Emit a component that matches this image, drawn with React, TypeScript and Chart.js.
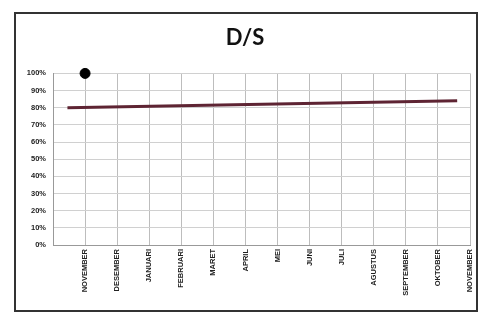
import React, { useEffect, useRef } from "react";
import { Chart, registerables } from "chart.js";

Chart.register(...registerables);

const monthLabels = ["", "NOVEMBER", "DESEMBER", "JANUARI", "FEBRUARI", "MARET", "APRIL", "MEI", "JUNI", "JULI", "AGUSTUS", "SEPTEMBER", "OKTOBER", "NOVEMBER"];
const actualValues: (number | null)[] = [null, 100, null, null, null, null, null, null, null, null, null, null, null, null];
const targetX = [0.45, 12.6];
const targetY = [80, 84];
const yTicks = [0, 10, 20, 30, 40, 50, 60, 70, 80, 90, 100];

export default function App() {
  const ref = useRef<HTMLCanvasElement | null>(null);
  useEffect(() => {
    if (!ref.current) return;
    const actualData = actualValues
      .map((v, i) => (v === null ? null : { x: i, y: v }))
      .filter((p) => p !== null);
    const targetData = targetX.map((x, i) => ({ x, y: targetY[i] }));
    const chart = new Chart(ref.current, {
      type: "scatter",
      data: {
        datasets: [
          {
            label: "Target",
            data: targetData,
            showLine: true,
            borderColor: "#5e2433",
            borderWidth: 3,
            pointRadius: 0,
          },
          {
            label: "D/S",
            data: actualData as any,
            pointRadius: 5,
            pointBackgroundColor: "#000",
            pointBorderColor: "#000",
            clip: false,
          } as any,
        ],
      },
      options: {
        animation: false,
        responsive: false,
        maintainAspectRatio: false,
        layout: { padding: { left: 0, right: 2, top: 0, bottom: 0 } },
        plugins: {
          legend: { display: false },
          tooltip: { enabled: false },
          title: {
            display: true,
            text: "D/S",
            color: "#111",
            font: { family: "Lato", size: 22, weight: "bold", lineHeight: 1.2 },
            padding: { top: 11, bottom: 22 },
          },
        },
        scales: {
          x: {
            type: "linear",
            min: 0,
            max: monthLabels.length - 1,
            afterBuildTicks: (scale: any) => {
              scale.ticks = monthLabels.map((_, i) => ({ value: i }));
            },
            afterFit: (scale: any) => {
              scale.height = 65;
              scale.paddingLeft = 0;
              scale.paddingRight = 0;
            },
            grid: { color: "#bdbdbd", lineWidth: 1, drawTicks: false },
            border: { color: "#999" },
            ticks: {
              autoSkip: false,
              maxRotation: 90,
              minRotation: 90,
              padding: 4,
              color: "#222",
              font: { family: "Liberation Sans", size: 7.5, weight: "bold" },
              callback: (v: any) => monthLabels[Math.round(Number(v))] ?? "",
            },
          },
          y: {
            min: 0,
            max: 100,
            afterBuildTicks: (scale: any) => {
              scale.ticks = yTicks.map((v) => ({ value: v }));
            },
            afterFit: (scale: any) => {
              scale.width = 37;
            },
            grid: { color: "#d0d0d0", lineWidth: 1, drawTicks: false },
            border: { color: "#999" },
            ticks: {
              padding: 7,
              color: "#222",
              font: { family: "Liberation Sans", size: 7.5, weight: "bold" },
              callback: (v: any) => v + "%",
            },
          },
        },
      },
    });
    return () => chart.destroy();
  }, []);

  return (
    <div
      style={{
        position: "absolute",
        left: 14,
        top: 12,
        width: 460,
        height: 296,
        border: "2px solid #333",
        background: "#fff",
      }}
    >
      <canvas ref={ref} width={460} height={296} style={{ display: "block", width: 460, height: 296 }} />
    </div>
  );
}
